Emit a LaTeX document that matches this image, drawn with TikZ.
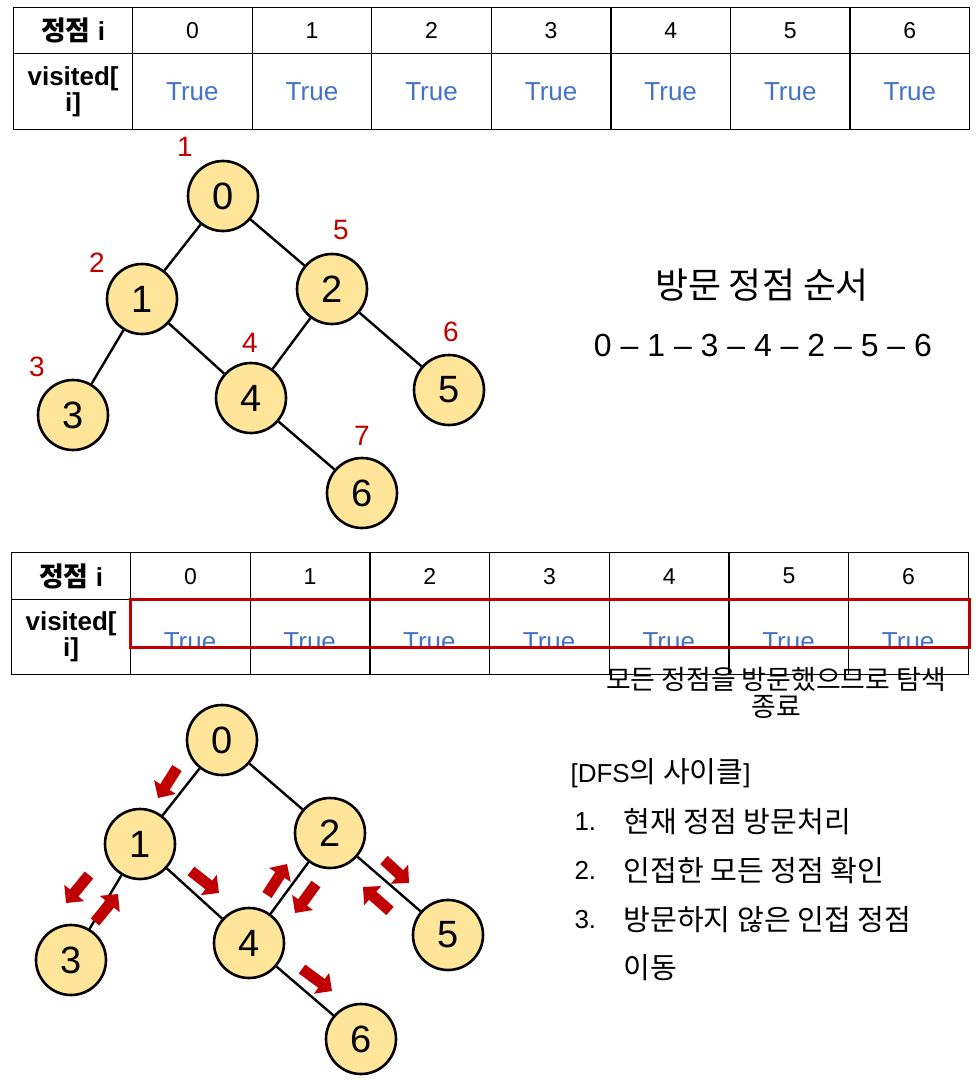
\documentclass[tikz,border=0pt]{standalone}
\usepackage{fontspec}
\setmainfont{Liberation Sans}
\newfontfamily\kr[Scale=1.12]{Noto Sans CJK KR}
\usetikzlibrary{arrows.meta,calc}
\definecolor{ink}{RGB}{0,0,0}
\definecolor{nodefill}{RGB}{255,229,153}
\definecolor{ordred}{RGB}{192,0,0}
\definecolor{trueblue}{RGB}{68,114,196}

\begin{document}
\begin{tikzpicture}[x=1pt,y=-1pt,
    cell/.style={draw=ink,line width=1.2pt,anchor=north west,inner sep=0pt,
      minimum width=119.6pt},
    labcell/.style={cell,minimum width=119pt,align=center,
      font=\fontsize{26}{26}\selectfont\bfseries},
    numtxt/.style={font=\fontsize{23}{26}\selectfont},
    truetxt/.style={font=\fontsize{26}{30}\selectfont,text=trueblue},
    vtx/.style={circle,draw=ink,line width=2.6pt,fill=nodefill,
      minimum size=70pt,inner sep=0pt,font=\fontsize{38}{40}\selectfont},
    ordlabel/.style={text=ordred,font=\fontsize{28}{30}\selectfont},
    edge/.style={draw=ink,line width=2.4pt},
    flow/.style={draw=ordred,line width=11pt,
      -{Triangle[width=25pt,length=13pt]}},
    hilite/.style={draw=ordred,line width=3pt},
    txt/.style={font=\fontsize{26}{30}\selectfont}]
  \useasboundingbox (0,0) rectangle (978,1080);

  % upper table
  \node[labcell,minimum height=46pt] (ta-h) at (13,7)
    {{\kr\fontsize{24}{26}\selectfont 정점} i};
  \node[labcell,minimum height=76pt] (ta-l) at (13,53) {visited[\\i]};
  \foreach \i in {0,...,6} {
    \node[cell,minimum height=46pt,numtxt] (ta-n\i) at ({132+\i*119.57},7) {\i};
    \node[cell,minimum height=76pt,truetxt] (ta-v\i) at ({132+\i*119.57},53) {True};
  }

  % upper tree with visiting order
  \node[vtx] (t0) at (223,196) {0};
  \node[vtx] (t1) at (142,299) {1};
  \node[vtx] (t2) at (332,289) {2};
  \node[vtx] (t3) at (73,415) {3};
  \node[vtx] (t4) at (251,398) {4};
  \node[vtx] (t5) at (449,390) {5};
  \node[vtx] (t6) at (362,493) {6};
  \foreach \a/\b in {0/1,0/2,1/3,1/4,2/4,2/5,4/6}
    \draw[edge] (t\a) -- (t\b);
  \foreach \v/\dx/\dy/\k in {0/-38/-49/1,1/-45/-36/2,3/-36/-48/3,
      4/-1/-55/4,2/9/-59/5,5/2/-58/6,6/0/-57/7}
    \node[ordlabel] (o\k) at ($(t\v)+(\dx,\dy)$) {\k};

  \node[font=\fontsize{32}{34}\selectfont] (ord-title) at (762,285) {\kr 방문 정점 순서};
  \node[font=\fontsize{32}{34}\selectfont] (ord-seq) at (763,345)
    {0 -- 1 -- 3 -- 4 -- 2 -- 5 -- 6};

  % lower table
  \node[labcell,minimum height=47pt] (tb-h) at (11,552)
    {{\kr\fontsize{24}{26}\selectfont 정점} i};
  \node[labcell,minimum height=75pt] (tb-l) at (11,599) {visited[\\i]};
  \foreach \i in {0,...,6} {
    \node[cell,minimum height=47pt,numtxt] (tb-n\i) at ({130+\i*119.7},552) {\i};
    \node[cell,minimum height=75pt] (tb-v\i) at ({130+\i*119.7},599) {};
  }
  \begin{scope}
    \clip (130,599) rectangle (968,646.5);
    \foreach \i in {0,...,6}
      \node[truetxt,anchor=base] (tb-t\i) at ({190+\i*119.7},650) {True};
  \end{scope}
  \draw[hilite] (tb-v0.north west) rectangle ([yshift=-48pt]tb-v6.north east);
  \node[align=center,font=\fontsize{24}{27}\selectfont\kr] (done) at (776,693)
    {모든 정점을 방문했으므로 탐색\\종료};

  % lower tree with search moves
  \node[vtx] (b0) at (222,740) {0};
  \node[vtx] (b1) at (140,844) {1};
  \node[vtx] (b2) at (330,833) {2};
  \node[vtx] (b3) at (71,960) {3};
  \node[vtx] (b4) at (249,943) {4};
  \node[vtx] (b5) at (448,935) {5};
  \node[vtx] (b6) at (361,1039) {6};
  \foreach \a/\b in {0/1,0/2,1/3,1/4,2/4,2/5,4/6}
    \draw[edge] (b\a) -- (b\b);
  \foreach \v/\sx/\sy/\ex/\ey in {0/-45/28/-19/30,1/-51/31/-23/28,
      3/24/-38/23/-28,1/51/27/28/22,4/18/-48/20/-31,2/-14/51/-21/29,
      2/54/27/25/23,5/-58/-24/-27/-24,4/53/26/30/22}
    \draw[flow] ($(b\v)+(\sx,\sy)$) -- ++(\ex,\ey);

  % DFS cycle
  \node[txt,anchor=west] (cyc) at (567,773) {[DFS{\kr 의 사이클}]};
  \node[txt,anchor=west] (n1) at (571,822) {1.};
  \node[txt,anchor=west] (s1) at (620,822) {\kr 현재 정점 방문처리};
  \node[txt,anchor=west] (n2) at (571,870) {2.};
  \node[txt,anchor=west] (s2) at (620,870) {\kr 인접한 모든 정점 확인};
  \node[txt,anchor=west] (n3) at (571,920) {3.};
  \node[txt,anchor=west] (s3) at (620,920) {\kr 방문하지 않은 인접 정점};
  \node[txt,anchor=west] (s3b) at (620,968) {\kr 이동};
\end{tikzpicture}
\end{document}
